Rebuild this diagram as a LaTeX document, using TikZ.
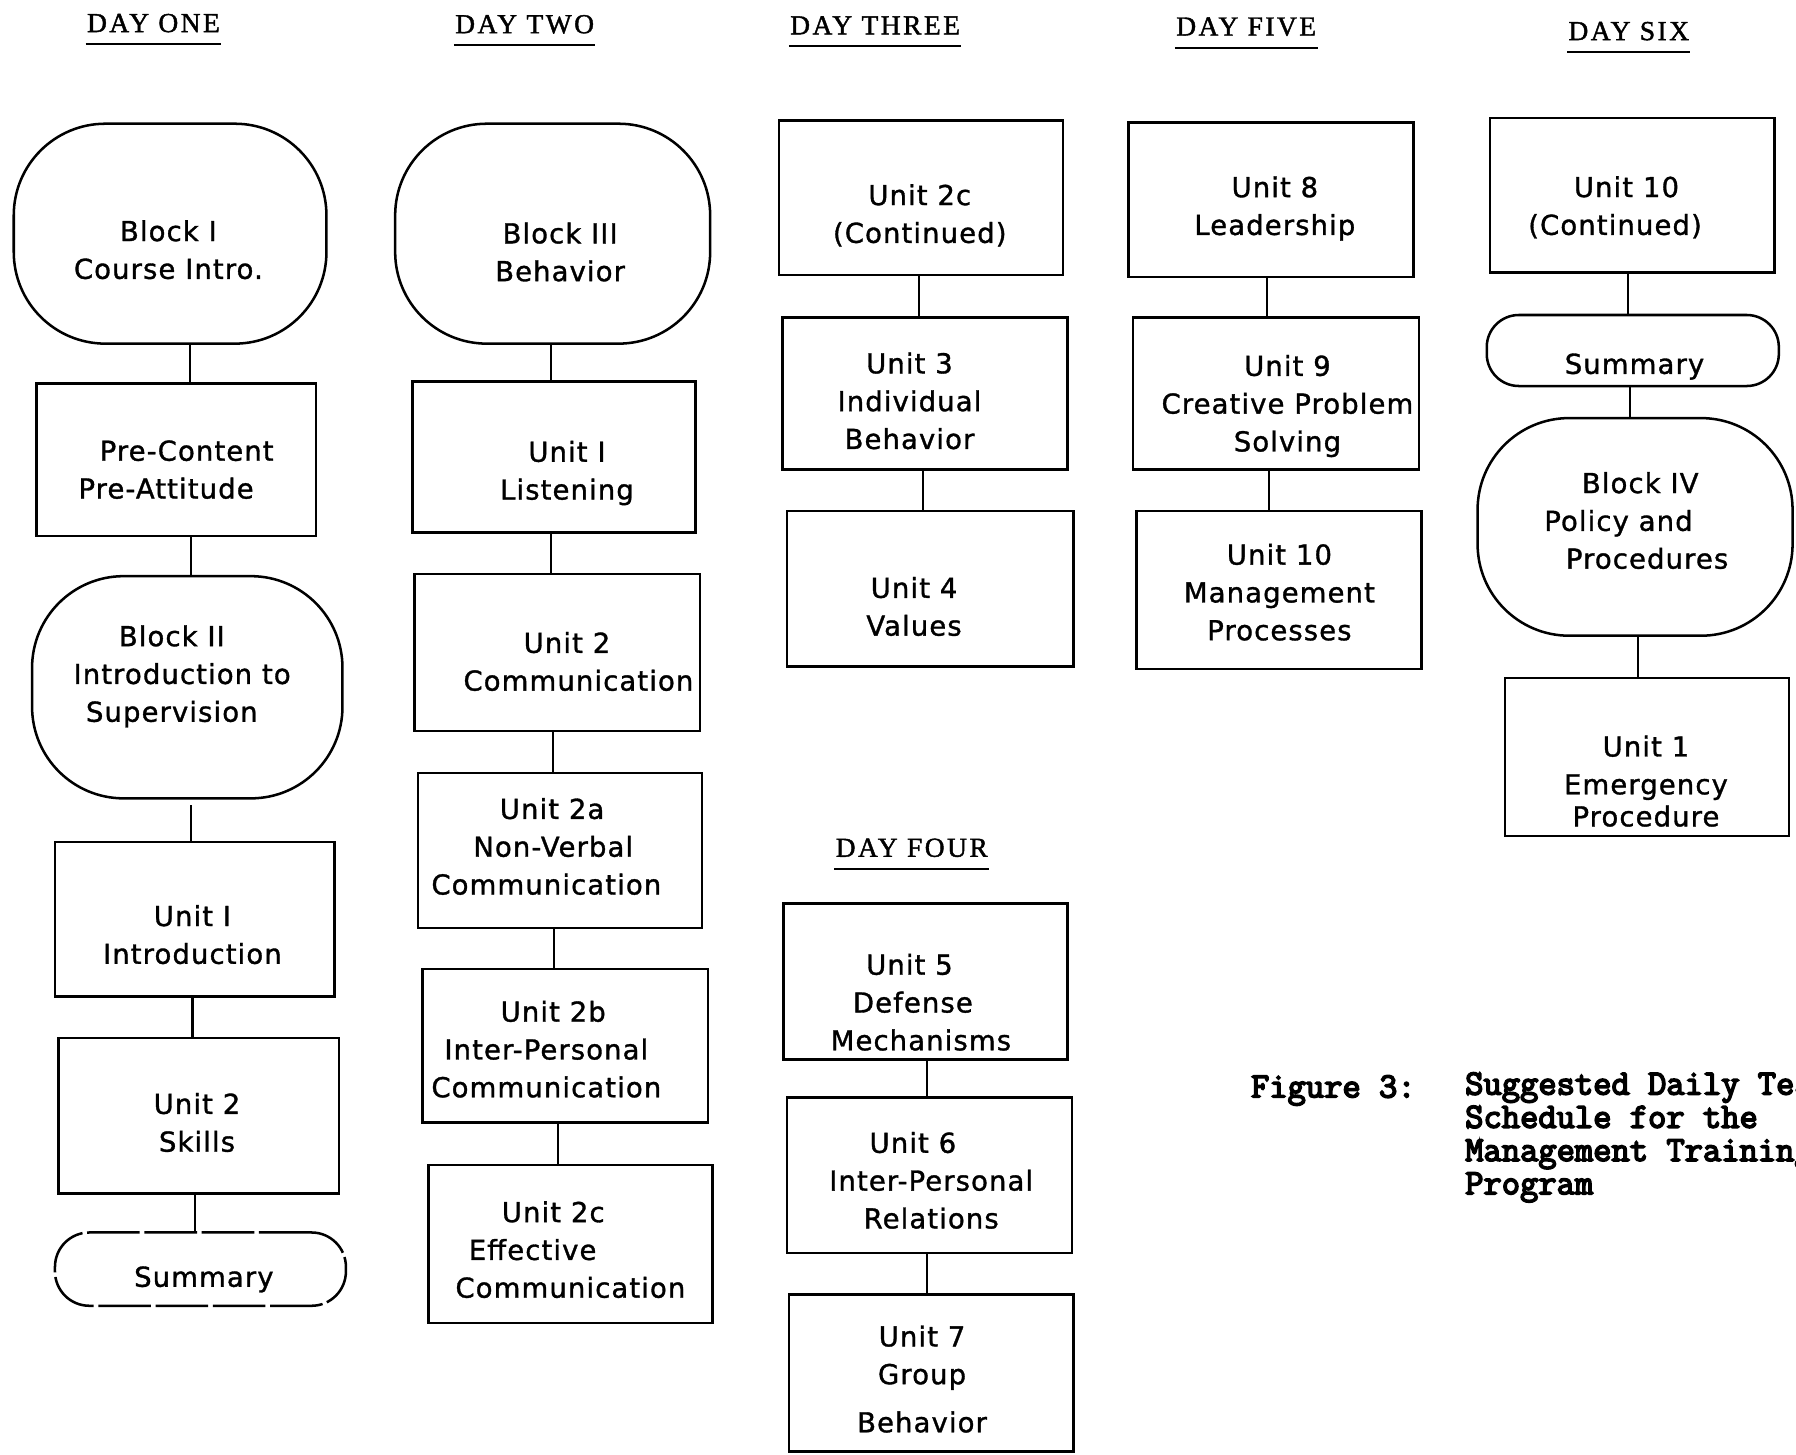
\documentclass[tikz,border=0pt]{standalone}
\usepackage{fontspec}
\newfontfamily\bodyfont{DejaVu Sans}[LetterSpace=4,FakeBold=1.2]
\newfontfamily\titlefont{Liberation Serif}[LetterSpace=9,FakeBold=1.5]
\newfontfamily\capfont{Latin Modern Mono}[FakeBold=4.5]
\newcommand\Ls[2]{\hbox{#2\kern#1}}
\newcommand\Rs[2]{\hbox{\kern#1#2}}
\begin{document}
\begin{tikzpicture}[x=1pt,y=-1pt,
  box/.style={draw, line width=2.2pt, rectangle, inner sep=0pt},
  blk/.style={box, rounded corners=80pt},
  pill/.style={box, rounded corners=30pt},
  txt/.style={font=\bodyfont\fontsize{24}{33}\selectfont, align=center, inner sep=0pt},
  ttl/.style={font=\titlefont\fontsize{24}{30}\selectfont, inner sep=1pt, anchor=base},
  capf/.style={font=\capfont\fontsize{31}{29}\selectfont, inner sep=0pt},
  conn/.style={line width=1.9pt},
  uline/.style={line width=1.8pt}]
\path[use as bounding box] (0,0) rectangle (1568,1270);
\clip (0,0) rectangle (1568,1270);

% ---------- titles ----------
\node[ttl] (h1) at (134,28) {DAY ONE};
\node[ttl] (h2) at (458,29) {DAY TWO};
\node[ttl] (h3) at (764,30) {DAY THREE};
\node[ttl] (h5) at (1088,31) {DAY FIVE};
\node[ttl] (h6) at (1422,35) {DAY SIX};
\node[ttl] (h4) at (796,748) {DAY FOUR};
\foreach \h in {h1,h2,h3,h4,h5,h6}
  \draw[uline] ([yshift=-9pt]\h.south west) -- ([yshift=-9pt]\h.south east);

% ---------- Day one ----------
\node[blk, minimum width=273pt, minimum height=192pt] (d1a) at (148.5,204) {};
\node[txt] (t1a) at (147,218) {Block I\\Course Intro.};
\node[box, minimum width=244pt, minimum height=133pt] (d1b) at (154,401.5) {};
\node[txt] (t1b) at (154,410) {\Rs{18pt}{Pre-Content}\\\Ls{18pt}{Pre-Attitude}};
\node[blk, minimum width=271pt, minimum height=194pt] (d1c) at (163.5,600) {};
\node[txt] (t1c) at (150,590.5) {Block II\\\Rs{18pt}{Introduction to}\\Supervision};
\node[box, minimum width=244pt, minimum height=135pt] (d1d) at (170,802.5) {};
\node[txt] (t1d) at (168,816) {Unit I\\Introduction};
\node[box, minimum width=245pt, minimum height=136pt] (d1e) at (173.5,974) {};
\node[txt] (t1e) at (172,980) {Unit 2\\Skills};
\node[pill, dash pattern=on 46pt off 4pt, minimum width=254pt, minimum height=64pt] (d1f) at (175,1108) {};
\node[txt] (t1f) at (178,1117) {Summary};

\coordinate (c1a) at (166,0);
\coordinate (c1b) at (167,0);
\coordinate (c1c) at (167,0);
\coordinate (c1d) at (168,0);
\coordinate (c1e) at (170,0);
\draw[conn] (d1a.south -| c1a) -- (d1b.north -| c1a);
\draw[conn] (d1b.south -| c1b) -- (d1c.north -| c1b);
\draw[conn] ([yshift=-5pt]d1c.south -| c1c) -- (d1d.north -| c1c);
\draw[conn] (d1d.south -| c1d) -- (d1e.north -| c1d);
\draw[conn] (d1e.south -| c1e) -- (d1f.north -| c1e);

% ---------- Day two ----------
\node[blk, minimum width=275pt, minimum height=192pt] (d2a) at (482.5,204) {};
\node[txt] (t2a) at (489,220) {Block III\\Behavior};
\node[box, minimum width=247pt, minimum height=132pt] (d2b) at (483.5,399) {};
\node[txt] (t2b) at (495,413) {Unit I\\Listening};
\node[box, minimum width=249pt, minimum height=137pt] (d2c) at (486.5,569.5) {};
\node[txt] (t2c) at (505,577.5) {\Ls{20pt}{Unit 2}\\Communication};
\node[box, minimum width=248pt, minimum height=135pt] (d2d) at (489,742.5) {};
\node[txt] (t2d) at (477,739) {\Rs{10pt}{Unit 2a}\\\Rs{12pt}{Non-Verbal}\\Communication};
\node[box, minimum width=249pt, minimum height=134pt] (d2e) at (493.5,913) {};
\node[txt] (t2e) at (477,916) {\Rs{12pt}{Unit 2b}\\Inter-Personal\\Communication};
\node[box, minimum width=248pt, minimum height=138pt] (d2f) at (498,1086) {};
\node[txt] (t2f) at (498,1091) {\Ls{30pt}{Unit 2c}\\\Ls{66pt}{Effective}\\Communication};

\coordinate (c2a) at (481,0);
\coordinate (c2b) at (481,0);
\coordinate (c2c) at (483,0);
\coordinate (c2d) at (484,0);
\coordinate (c2e) at (487,0);
\draw[conn] (d2a.south -| c2a) -- (d2b.north -| c2a);
\draw[conn] (d2b.south -| c2b) -- (d2c.north -| c2b);
\draw[conn] (d2c.south -| c2c) -- (d2d.north -| c2c);
\draw[conn] (d2d.south -| c2d) -- (d2e.north -| c2d);
\draw[conn] (d2e.south -| c2e) -- (d2f.north -| c2e);

% ---------- Day three ----------
\node[box, minimum width=248pt, minimum height=135pt] (d3a) at (804,172.5) {};
\node[txt] (t3a) at (803,188) {Unit 2c\\(Continued)};
\node[box, minimum width=249pt, minimum height=133pt] (d3b) at (807.5,343.5) {};
\node[txt] (t3b) at (794,350) {Unit 3\\Individual\\Behavior};
\node[box, minimum width=250pt, minimum height=136pt] (d3c) at (812,514) {};
\node[txt] (t3c) at (798,529.5) {Unit 4\\Values};
\coordinate (c3a) at (802,0);
\coordinate (c3b) at (806,0);
\draw[conn] (d3a.south -| c3a) -- (d3b.north -| c3a);
\draw[conn] (d3b.south -| c3b) -- (d3c.north -| c3b);

% ---------- Day four ----------
\node[box, minimum width=248pt, minimum height=136pt] (d4a) at (808,857) {};
\node[txt] (t4a) at (804,875) {\Ls{20pt}{Unit 5}\\\Ls{14pt}{Defense}\\Mechanisms};
\node[box, minimum width=249pt, minimum height=136pt] (d4b) at (811.5,1026) {};
\node[txt] (t4b) at (813,1030.5) {\Ls{32pt}{Unit 6}\\Inter-Personal\\Relations};
\node[box, minimum width=248pt, minimum height=137pt] (d4c) at (813,1198.5) {};
\node[txt] (t4c) at (805,1204) {Unit 7\\Group\\[9pt]Behavior};
\coordinate (c4a) at (809,0);
\coordinate (c4b) at (809,0);
\draw[conn] (d4a.south -| c4a) -- (d4b.north -| c4a);
\draw[conn] (d4b.south -| c4b) -- (d4c.north -| c4b);

% ---------- Day five ----------
\node[box, minimum width=249pt, minimum height=135pt] (d5a) at (1109.5,174.5) {};
\node[txt] (t5a) at (1113,182) {Unit 8\\Leadership};
\node[box, minimum width=250pt, minimum height=133pt] (d5b) at (1114,343.5) {};
\node[txt] (t5b) at (1124,354.5) {Unit 9\\Creative Problem\\Solving};
\node[box, minimum width=249pt, minimum height=138pt] (d5c) at (1116.5,515) {};
\node[txt] (t5c) at (1117,517) {Unit 10\\Management\\Processes};
\coordinate (c5a) at (1106,0);
\coordinate (c5b) at (1108,0);
\draw[conn] (d5a.south -| c5a) -- (d5b.north -| c5a);
\draw[conn] (d5b.south -| c5b) -- (d5c.north -| c5b);

% ---------- Day six ----------
\node[box, minimum width=248pt, minimum height=135pt] (d6a) at (1425,170.5) {};
\node[txt] (t6a) at (1410,181) {\Rs{20pt}{Unit 10}\\(Continued)};
\node[pill, rounded corners=28pt, minimum width=255pt, minimum height=62pt] (d6b) at (1425.5,306) {};
\node[txt] (t6b) at (1427,320) {Summary};
\node[blk, minimum width=275pt, minimum height=190pt] (d6c) at (1427.5,460) {};
\node[txt] (t6c) at (1438,454.5) {\Ls{12pt}{Block IV}\\\Ls{50pt}{Policy and}\\Procedures};
\node[box, minimum width=248pt, minimum height=138pt] (d6d) at (1438,661) {};
\node[txt] (t6d) at (1437,682) {Unit 1\\Emergency\\[-5pt]Procedure};
\coordinate (c6a) at (1421,0);
\coordinate (c6b) at (1423,0);
\coordinate (c6c) at (1430,0);
\draw[conn] (d6a.south -| c6a) -- (d6b.north -| c6a);
\draw[conn] (d6b.south -| c6b) -- (d6c.north -| c6b);
\draw[conn] (d6c.south -| c6c) -- (d6d.north -| c6c);

% ---------- caption ----------
\node[capf, anchor=west] (fig) at (1092,952) {Figure 3:};
\node[capf, anchor=west, align=left] (cap) at (1279,993)
  {Suggested Daily Teaching\\Schedule for the\\Management Training\\Program};
\end{tikzpicture}
\end{document}
